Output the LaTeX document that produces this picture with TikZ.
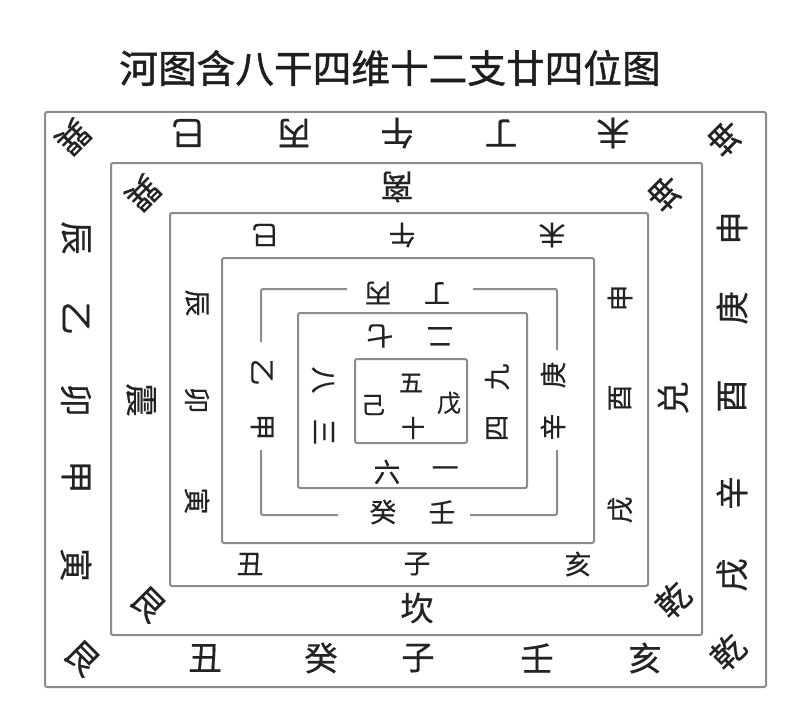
\documentclass[tikz,border=0pt]{standalone}
\usepackage{fontspec}
\setmainfont[FakeBold=0.5]{Noto Sans CJK SC}
\newfontfamily\titlefont[FakeBold=1.2]{Noto Sans CJK SC}

\tikzset{every picture/.style={line width=0.75pt}}
\tikzset{
  frm/.style={color={rgb, 255:red, 140; green, 140; blue, 140 }, line width=1.5pt, rounded corners=1.5pt},
  big/.style={inner sep=0.75pt, text={rgb, 255:red, 35; green, 35; blue, 35 }, font=\fontsize{25}{25}\selectfont},
  mid/.style={inner sep=0.75pt, text={rgb, 255:red, 35; green, 35; blue, 35 }, font=\fontsize{20}{20}\selectfont},
  sml/.style={inner sep=0.75pt, text={rgb, 255:red, 35; green, 35; blue, 35 }, font=\fontsize{18}{18}\selectfont},
}

\begin{document}
\begin{tikzpicture}[x=0.75pt,y=0.75pt,yscale=-1,xscale=1]
\useasboundingbox (0,0) rectangle (800,724);

% Title
\node (title) at (390,68) [inner sep=0.75pt, text={rgb, 255:red, 30; green, 30; blue, 30 }, font=\titlefont\fontsize{29}{29}\selectfont] {河图含八干四维十二支廿四位图};

%Shape: Rectangle (outer)
\draw [frm] (45,112) rectangle (766,687);
%Shape: Rectangle
\draw [frm] (111,163) rectangle (702,635);
%Shape: Rectangle
\draw [frm] (170,213) rectangle (648,586);
%Shape: Rectangle
\draw [frm] (222,258) rectangle (594,543);
%Shape: broken frame
\draw [frm] (347,289) -- (261,289) -- (261,342);
\draw [frm] (473,289) -- (557,289) -- (557,350);
\draw [frm] (261,450) -- (261,515) -- (338,515);
\draw [frm] (557,450) -- (557,515) -- (470,515);
%Shape: Rectangle
\draw [frm] (298,313) rectangle (527,488);
%Shape: Rectangle (inner)
\draw [frm] (355,359) rectangle (467,443);

% Text Node: twenty-four positions
\node (sxO) at (73,137) [big, rotate=-135] {巽};
\node (siO) at (188,133) [big, rotate=180] {巳};
\node (bingO) at (294,133) [big, rotate=180] {丙};
\node (wuO) at (397,133) [big, rotate=180] {午};
\node (dingO) at (501,133) [big, rotate=180] {丁};
\node (weiO) at (613,133) [big, rotate=180] {未};
\node (kunO) at (725,138) [big, rotate=135] {坤};
\node (shenO) at (732,228) [big, rotate=90] {申};
\node (gengO) at (732,308) [big, rotate=90] {庚};
\node (youO) at (732,396) [big, rotate=90] {酉};
\node (xinO) at (732,493) [big, rotate=90] {辛};
\node (xuO) at (732,575) [big, rotate=90] {戌};
\node (qianO) at (728,652) [big, rotate=45] {乾};
\node (haiO) at (645,658) [big] {亥};
\node (renO) at (537,658) [big] {壬};
\node (ziO) at (418,658) [big] {子};
\node (guiO) at (321,658) [big] {癸};
\node (chouO) at (205,658) [big] {丑};
\node (genO) at (82,658) [big, rotate=-45] {艮};
\node (yinO) at (76,565) [big, rotate=-90] {寅};
\node (jiaO) at (76,477) [big, rotate=-90] {甲};
\node (maoO) at (76,400) [big, rotate=-90] {卯};
\node (yiO) at (76,318) [big, rotate=-90] {乙};
\node (chenO) at (76,238) [big, rotate=-90] {辰};

% Text Node: eight trigrams
\node (xunG) at (143,193) [big, rotate=-135] {巽};
\node (liG) at (397,187) [big, rotate=180] {离};
\node (kunG) at (665,193) [big, rotate=135] {坤};
\node (duiG) at (673,398) [big, rotate=90] {兑};
\node (qianG) at (673,600) [big, rotate=45] {乾};
\node (kanG) at (417,608) [big] {坎};
\node (genG) at (148,604) [big, rotate=-45] {艮};
\node (zhenG) at (141,400) [big, rotate=-90] {震};

% Text Node: twelve branches
\node (siB) at (265,235) [mid, rotate=180] {巳};
\node (wuB) at (402,235) [mid, rotate=180] {午};
\node (weiB) at (552,235) [mid, rotate=180] {未};
\node (shenB) at (620,298) [mid, rotate=90] {申};
\node (youB) at (620,398) [mid, rotate=90] {酉};
\node (xuB) at (620,510) [mid, rotate=90] {戌};
\node (haiB) at (578,564) [mid] {亥};
\node (ziB) at (417,564) [mid] {子};
\node (chouB) at (250,564) [mid] {丑};
\node (yinB) at (197,501) [mid, rotate=-90] {寅};
\node (maoB) at (197,400) [mid, rotate=-90] {卯};
\node (chenB) at (197,303) [mid, rotate=-90] {辰};

% Text Node: eight stems
\node (bingS) at (378,293) [mid, rotate=180] {丙};
\node (dingS) at (437,293) [mid, rotate=180] {丁};
\node (gengS) at (553,375) [mid, rotate=90] {庚};
\node (xinS) at (553,427) [mid, rotate=90] {辛};
\node (renS) at (442,512) [mid] {壬};
\node (guiS) at (383,512) [mid] {癸};
\node (jiaS) at (262,427) [mid, rotate=-90] {甲};
\node (yiS) at (262,372) [mid, rotate=-90] {乙};

% Text Node: numbers
\node (qiN) at (380,336) [mid, rotate=180] {七};
\node (erN) at (440,336) [mid, rotate=180] {二};
\node (jiuN) at (497,377) [mid, rotate=90] {九};
\node (siN) at (497,428) [mid, rotate=90] {四};
\node (yiN) at (445,472) [mid] {一};
\node (liuN) at (387,472) [mid] {六};
\node (sanN) at (324,432) [mid, rotate=-90] {三};
\node (baN) at (323,380) [mid, rotate=-90] {八};

% Text Node: centre
\node (wuC) at (411,383) [sml] {五};
\node (jiC) at (373,405) [sml] {己};
\node (wuxC) at (449,403) [sml] {戊};
\node (shiC) at (413,428) [sml] {十};

\end{tikzpicture}
\end{document}
